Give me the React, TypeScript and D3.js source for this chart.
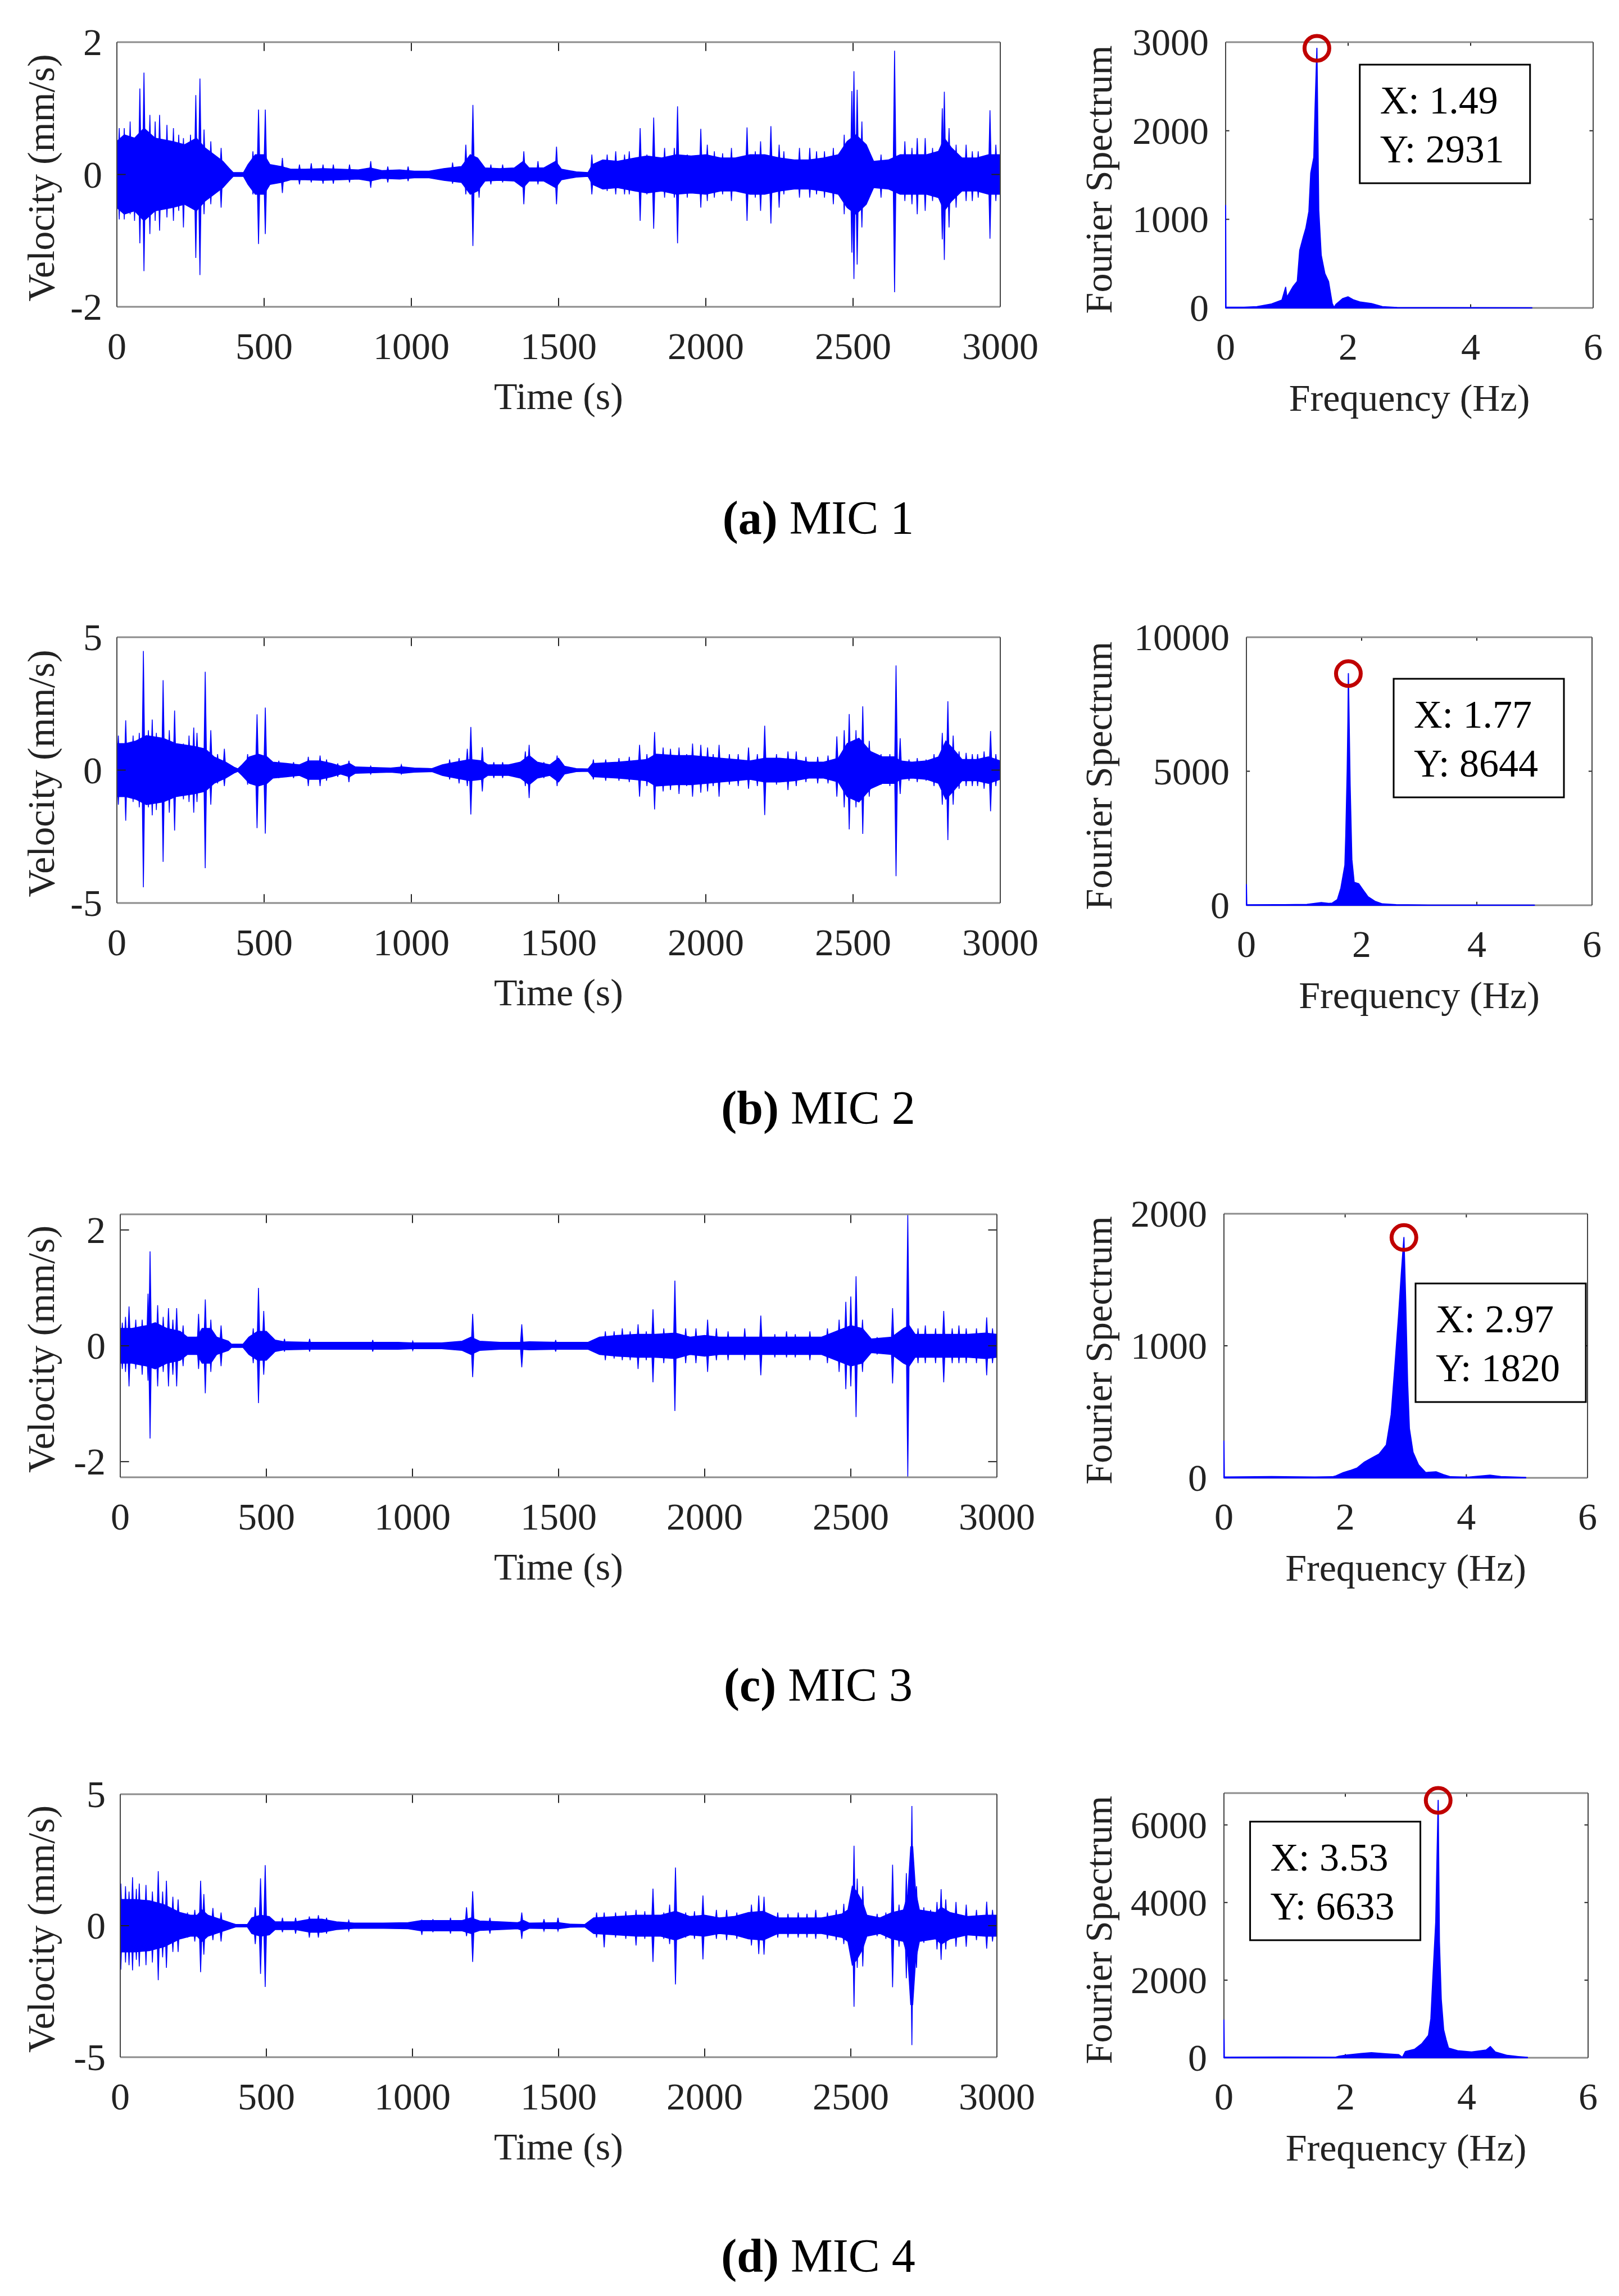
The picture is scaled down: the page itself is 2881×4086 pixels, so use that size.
import React from 'react';
import * as d3 from 'd3';

const W = 2881;
const H = 4086;
const FONT = '"Liberation Serif", "Times New Roman", serif';
const BLUE = '#0000ff';
const INK = '#222222';

const timeTicks = [0, 500, 1000, 1500, 2000, 2500, 3000];
const freqTicks = [0, 2, 4, 6];

// velocity records: dense core envelope [t, amplitude] and single spikes [t, up, down]
const mic1Core = [[0,0.5],[25,0.6],[60,0.55],[92,0.7],[130,0.55],[190,0.5],[230,0.45],[270,0.55],[300,0.4],[330,0.3],[360,0.2],[380,0.1],[395,0.03],[430,0.03],[445,0.15],[470,0.3],[500,0.3],[520,0.15],[560,0.12],[590,0.08],[640,0.08],[700,0.09],[760,0.08],[820,0.07],[860,0.1],[900,0.06],[960,0.07],[1010,0.05],[1060,0.05],[1110,0.09],[1170,0.12],[1200,0.3],[1225,0.25],[1250,0.1],[1300,0.09],[1350,0.1],[1380,0.2],[1400,0.1],[1450,0.1],[1490,0.2],[1510,0.08],[1560,0.04],[1600,0.03],[1615,0.15],[1650,0.22],[1700,0.2],[1760,0.25],[1800,0.28],[1850,0.25],[1900,0.3],[1950,0.28],[2000,0.3],[2050,0.25],[2100,0.25],[2150,0.3],[2200,0.3],[2250,0.25],[2300,0.22],[2350,0.22],[2400,0.25],[2450,0.3],[2480,0.5],[2510,0.6],[2545,0.45],[2570,0.2],[2620,0.22],[2660,0.3],[2700,0.3],[2750,0.3],[2790,0.35],[2810,0.55],[2835,0.4],[2870,0.25],[2920,0.25],[2960,0.3],[3000,0.3]];
const mic1Spikes = [[8,0.7,-0.68],[25,0.7,-0.68],[45,0.8,-0.6],[60,0.5,-0.7],[78,1.3,-1.04],[92,1.54,-1.46],[112,0.9,-0.9],[130,0.8,-0.7],[145,0.9,-0.85],[170,0.75,-0.65],[192,0.7,-0.7],[210,0.6,-0.55],[226,0.55,-0.8],[250,0.6,-0.5],[268,1.2,-1.26],[282,1.45,-1.52],[296,0.68,-0.6],[319,0.5,-0.45],[354,0.4,-0.5],[462,0.35,-0.3],[481,0.98,-1.05],[504,0.98,-0.9],[562,0.25,-0.28],[620,0.15,-0.15],[660,0.17,-0.12],[700,0.15,-0.14],[735,0.15,-0.14],[790,0.15,-0.12],[862,0.2,-0.2],[920,0.12,-0.12],[989,0.12,-0.1],[1140,0.18,-0.14],[1185,0.45,-0.3],[1209,1.05,-1.08],[1230,0.2,-0.35],[1270,0.15,-0.15],[1310,0.15,-0.12],[1382,0.35,-0.45],[1430,0.2,-0.15],[1493,0.42,-0.45],[1613,0.3,-0.3],[1665,0.3,-0.25],[1694,0.35,-0.3],[1724,0.3,-0.3],[1740,0.35,-0.3],[1777,0.7,-0.7],[1800,0.3,-0.3],[1823,0.86,-0.82],[1860,0.4,-0.35],[1893,0.4,-0.35],[1904,1.03,-1.04],[1937,0.3,-0.35],[1983,0.69,-0.5],[2005,0.45,-0.4],[2029,0.35,-0.35],[2057,0.32,-0.3],[2087,0.4,-0.4],[2140,0.71,-0.7],[2168,0.35,-0.35],[2186,0.5,-0.55],[2221,0.73,-0.74],[2249,0.45,-0.5],[2265,0.35,-0.3],[2318,0.4,-0.35],[2353,0.4,-0.35],[2376,0.35,-0.3],[2403,0.35,-0.35],[2433,0.4,-0.45],[2470,0.6,-0.6],[2496,1.26,-1.18],[2503,1.56,-1.58],[2514,1.28,-1.36],[2530,0.8,-0.8],[2595,0.3,-0.35],[2641,1.87,-1.78],[2676,0.5,-0.4],[2700,0.4,-0.45],[2718,0.55,-0.6],[2745,0.55,-0.55],[2770,0.4,-0.4],[2803,1.0,-0.98],[2810,1.25,-1.29],[2826,0.7,-0.8],[2850,0.45,-0.5],[2884,0.45,-0.4],[2905,0.35,-0.4],[2925,0.35,-0.35],[2965,0.97,-0.97],[2985,0.45,-0.4]];

const mic2Core = [[0,1.0],[30,1.0],[65,1.1],[100,1.3],[157,1.2],[200,1.0],[260,0.9],[300,0.8],[330,0.5],[370,0.3],[400,0.1],[411,0.05],[425,0.2],[450,0.5],[480,0.6],[510,0.5],[530,0.3],[580,0.25],[620,0.2],[650,0.35],[690,0.35],[730,0.25],[760,0.15],[790,0.25],[810,0.12],[870,0.1],[930,0.08],[970,0.12],[1010,0.08],[1070,0.06],[1105,0.2],[1150,0.3],[1200,0.4],[1240,0.35],[1260,0.2],[1330,0.2],[1370,0.3],[1400,0.55],[1428,0.3],[1470,0.2],[1500,0.45],[1520,0.15],[1560,0.06],[1600,0.05],[1615,0.25],[1700,0.3],[1750,0.35],[1800,0.4],[1830,0.6],[1900,0.55],[1950,0.55],[2000,0.5],[2050,0.45],[2100,0.4],[2150,0.35],[2200,0.45],[2250,0.45],[2300,0.4],[2350,0.3],[2400,0.3],[2450,0.45],[2480,1.0],[2520,1.2],[2560,0.7],[2600,0.5],[2640,0.5],[2660,0.35],[2700,0.3],[2750,0.35],[2790,0.5],[2815,1.1],[2840,0.8],[2870,0.4],[2920,0.4],[2960,0.5],[3000,0.35]];
const mic2Spikes = [[5,1.3,-1.3],[30,1.87,-1.9],[55,1.3,-1.2],[76,1.4,-1.4],[90,4.48,-4.41],[107,1.5,-1.4],[120,1.9,-1.7],[134,1.4,-1.5],[157,3.38,-3.45],[178,1.5,-1.6],[196,2.24,-2.27],[226,1.0,-1.1],[245,1.3,-1.2],[261,1.6,-1.6],[272,1.4,-1.2],[300,3.7,-3.69],[319,1.5,-1.3],[342,0.6,-0.5],[365,0.8,-0.6],[444,0.6,-0.55],[476,2.1,-2.18],[504,2.35,-2.39],[515,0.4,-0.4],[550,0.35,-0.3],[600,0.3,-0.3],[650,0.5,-0.6],[690,0.55,-0.6],[712,0.4,-0.4],[750,0.25,-0.25],[788,0.35,-0.45],[862,0.15,-0.15],[966,0.2,-0.15],[1130,0.4,-0.35],[1162,0.45,-0.5],[1190,0.8,-0.6],[1202,1.62,-1.67],[1241,0.86,-0.8],[1280,0.3,-0.3],[1310,0.3,-0.3],[1387,0.7,-0.6],[1400,0.95,-1.05],[1450,0.3,-0.3],[1495,0.55,-0.6],[1618,0.4,-0.35],[1660,0.4,-0.4],[1705,0.45,-0.4],[1740,0.5,-0.45],[1775,0.95,-1.0],[1800,0.6,-0.6],[1826,1.43,-1.48],[1855,0.85,-0.8],[1880,0.8,-0.75],[1909,0.85,-0.9],[1935,0.6,-0.6],[1955,1.0,-1.0],[1983,0.95,-0.85],[2006,0.85,-0.8],[2025,0.6,-0.6],[2045,0.95,-1.0],[2080,0.6,-0.55],[2110,0.6,-0.6],[2145,0.85,-0.7],[2175,0.6,-0.6],[2200,1.67,-1.69],[2240,0.6,-0.55],[2279,0.7,-0.75],[2307,0.7,-0.6],[2340,0.5,-0.45],[2380,0.5,-0.5],[2415,0.55,-0.5],[2445,1.27,-1.0],[2470,1.5,-1.4],[2487,2.11,-2.23],[2510,1.5,-1.4],[2533,2.4,-2.4],[2555,1.1,-1.0],[2595,0.6,-0.55],[2625,0.6,-0.6],[2646,3.94,-3.99],[2660,1.2,-0.9],[2690,0.4,-0.4],[2718,0.45,-0.45],[2748,0.4,-0.4],[2775,0.6,-0.6],[2803,1.4,-1.3],[2822,2.59,-2.63],[2840,1.3,-1.3],[2860,0.7,-0.7],[2884,0.65,-0.6],[2905,0.6,-0.6],[2923,0.6,-0.6],[2945,0.7,-0.7],[2967,1.47,-1.55],[2985,0.6,-0.6]];

const mic3Core = [[0,0.3],[40,0.3],[90,0.35],[120,0.4],[160,0.3],[205,0.25],[230,0.15],[263,0.15],[280,0.3],[310,0.3],[330,0.15],[370,0.08],[380,0.03],[420,0.03],[440,0.15],[470,0.25],[500,0.25],[530,0.1],[560,0.07],[650,0.06],[750,0.06],[850,0.06],[950,0.06],[1000,0.05],[1100,0.05],[1170,0.08],[1200,0.15],[1230,0.08],[1300,0.06],[1370,0.06],[1400,0.07],[1500,0.06],[1600,0.06],[1640,0.15],[1700,0.18],[1770,0.2],[1830,0.2],[1900,0.22],[1950,0.15],[2000,0.18],[2050,0.15],[2100,0.15],[2150,0.15],[2200,0.15],[2300,0.15],[2400,0.15],[2450,0.25],[2500,0.35],[2540,0.3],[2570,0.12],[2640,0.15],[2680,0.3],[2700,0.35],[2720,0.2],[2800,0.2],[2850,0.2],[2900,0.2],[2960,0.22],[3000,0.2]];
const mic3Spikes = [[7,0.4,-0.4],[18,0.5,-0.45],[30,0.68,-0.7],[53,0.45,-0.4],[75,0.45,-0.5],[95,0.9,-0.6],[102,1.63,-1.6],[128,0.7,-0.7],[147,0.5,-0.45],[165,0.65,-0.7],[180,0.45,-0.5],[193,0.65,-0.7],[215,0.35,-0.35],[268,0.55,-0.4],[291,0.8,-0.82],[310,0.45,-0.45],[345,0.35,-0.35],[455,0.3,-0.3],[473,1.0,-0.99],[491,0.6,-0.5],[562,0.12,-0.1],[648,0.12,-0.1],[864,0.1,-0.1],[1001,0.08,-0.08],[1206,0.55,-0.54],[1374,0.37,-0.37],[1490,0.1,-0.1],[1660,0.25,-0.25],[1690,0.25,-0.22],[1718,0.3,-0.25],[1745,0.25,-0.25],[1772,0.37,-0.4],[1800,0.25,-0.25],[1823,0.63,-0.63],[1860,0.3,-0.3],[1898,1.125,-1.125],[1935,0.3,-0.3],[1970,0.3,-0.3],[2010,0.45,-0.45],[2040,0.3,-0.25],[2080,0.25,-0.25],[2137,0.3,-0.25],[2192,0.52,-0.51],[2240,0.2,-0.2],[2280,0.25,-0.2],[2310,0.2,-0.2],[2360,0.25,-0.25],[2420,0.3,-0.3],[2460,0.45,-0.45],[2483,0.76,-0.75],[2500,0.85,-0.7],[2518,1.2,-1.23],[2540,0.45,-0.45],[2590,0.15,-0.15],[2643,0.65,-0.65],[2695,2.27,-2.27],[2730,0.3,-0.3],[2755,0.35,-0.3],[2790,0.3,-0.3],[2818,0.6,-0.63],[2847,0.3,-0.3],[2870,0.35,-0.3],[2895,0.3,-0.3],[2930,0.3,-0.3],[2965,0.49,-0.51],[2985,0.3,-0.3]];

const mic4Core = [[0,1.0],[50,1.0],[100,0.95],[150,0.8],[205,0.5],[240,0.4],[263,0.4],[280,0.6],[300,0.4],[340,0.25],[380,0.1],[395,0.05],[435,0.05],[450,0.3],[480,0.4],[510,0.35],[530,0.15],[600,0.15],[650,0.25],[690,0.25],[740,0.15],[800,0.1],[900,0.1],[985,0.12],[1030,0.2],[1060,0.2],[1110,0.2],[1170,0.2],[1200,0.3],[1230,0.18],[1300,0.15],[1360,0.12],[1380,0.2],[1400,0.1],[1500,0.12],[1540,0.06],[1590,0.05],[1620,0.3],[1700,0.35],[1770,0.4],[1850,0.4],[1900,0.55],[1950,0.35],[2000,0.4],[2050,0.3],[2100,0.35],[2150,0.5],[2200,0.55],[2250,0.3],[2300,0.3],[2400,0.3],[2470,0.45],[2490,0.6],[2505,1.5],[2520,1.3],[2540,0.9],[2555,0.4],[2600,0.3],[2640,0.5],[2680,0.6],[2695,1.2],[2705,3.0],[2712,3.0],[2722,1.3],[2735,0.6],[2790,0.5],[2810,0.7],[2840,0.5],[2900,0.35],[2960,0.4],[3000,0.4]];
const mic4Spikes = [[2,1.6,-1.67],[18,1.5,-1.4],[30,1.3,-1.5],[42,1.84,-1.7],[55,1.4,-1.3],[65,1.6,-1.55],[88,1.55,-1.5],[110,1.3,-1.4],[130,2.07,-2.07],[145,1.3,-1.2],[158,1.71,-1.6],[180,1.1,-1.0],[198,1.0,-1.0],[230,0.5,-0.45],[255,0.6,-0.6],[275,1.71,-1.77],[286,1.2,-1.1],[317,0.67,-0.55],[345,0.5,-0.6],[462,0.7,-0.7],[480,1.8,-1.83],[496,2.3,-2.33],[555,0.3,-0.25],[600,0.3,-0.3],[647,0.35,-0.45],[678,0.4,-0.45],[706,0.3,-0.3],[782,0.2,-0.2],[1032,0.2,-0.35],[1070,0.25,-0.25],[1130,0.3,-0.3],[1185,0.7,-0.4],[1206,1.31,-1.38],[1265,0.3,-0.3],[1374,0.5,-0.5],[1450,0.25,-0.2],[1498,0.3,-0.2],[1630,0.5,-0.45],[1656,0.5,-0.82],[1695,0.5,-0.45],[1730,0.55,-0.5],[1765,0.6,-0.75],[1795,0.55,-0.5],[1823,1.41,-1.38],[1860,0.5,-0.5],[1880,0.8,-0.7],[1900,2.21,-2.23],[1935,0.5,-0.45],[1965,0.55,-0.5],[1994,1.15,-1.28],[2040,0.6,-0.5],[2075,0.6,-0.55],[2110,0.5,-0.5],[2160,0.8,-0.75],[2185,1.15,-1.08],[2203,1.1,-1.1],[2250,0.5,-0.45],[2285,0.45,-0.45],[2320,0.5,-0.45],[2350,0.45,-0.45],[2380,0.6,-0.5],[2420,0.5,-0.5],[2450,0.6,-0.55],[2476,0.83,-0.7],[2511,3.04,-3.08],[2522,1.79,-1.6],[2541,1.5,-1.55],[2590,0.45,-0.4],[2620,0.5,-0.5],[2643,2.32,-2.34],[2665,0.8,-0.8],[2690,2.0,-2.0],[2709,4.55,-4.54],[2725,1.5,-1.6],[2750,0.7,-0.65],[2773,0.6,-0.5],[2795,0.9,-0.9],[2809,1.39,-1.3],[2825,1.0,-0.9],[2860,0.9,-0.8],[2895,0.8,-0.8],[2930,0.6,-0.55],[2965,0.91,-0.87],[2985,0.6,-0.6]];

// Fourier spectra [frequency Hz, amplitude]
const mic1Spectrum = [[0,1158],[0.006,10],[0.3,8],[0.51,15],[0.75,45],[0.92,90],[0.98,233],[1.0,120],[1.1,240],[1.17,300],[1.21,650],[1.27,806],[1.31,900],[1.36,1090],[1.39,1522],[1.44,1700],[1.46,2240],[1.49,2931],[1.52,1105],[1.56,597],[1.62,388],[1.68,298],[1.74,50],[1.77,5],[1.8,40],[1.91,105],[2.0,125],[2.09,90],[2.2,66],[2.38,50],[2.56,15],[2.8,5],[3.5,3],[5.0,2]];
const mic2Spectrum = [[0,770],[0.006,15],[0.5,20],[1.05,30],[1.3,100],[1.43,70],[1.49,80],[1.58,214],[1.64,640],[1.71,1497],[1.725,2567],[1.75,5027],[1.762,6845],[1.77,8644],[1.8,4492],[1.83,1711],[1.87,855],[1.95,802],[2.02,588],[2.11,320],[2.23,150],[2.36,50],[2.6,20],[3.0,8],[5.0,5]];
const mic3Spectrum = [[0,279],[0.006,6],[0.79,10],[1.5,6],[1.79,8],[1.85,15],[1.97,40],[2.08,55],[2.2,75],[2.32,120],[2.44,150],[2.56,180],[2.68,250],[2.76,479],[2.82,838],[2.88,1218],[2.93,1567],[2.97,1820],[3.0,1324],[3.03,733],[3.06,374],[3.12,194],[3.21,99],[3.33,40],[3.5,46],[3.62,25],[3.74,8],[4.03,5],[4.39,20],[4.57,10],[4.98,3]];
const mic4Spectrum = [[0,972],[0.006,15],[1.0,18],[1.84,15],[1.9,40],[2.02,70],[2.26,108],[2.43,130],[2.67,100],[2.88,80],[2.94,10],[2.99,158],[3.14,216],[3.26,360],[3.37,576],[3.41,1008],[3.44,1980],[3.49,3493],[3.515,5474],[3.53,6633],[3.55,2989],[3.58,1513],[3.62,720],[3.66,468],[3.7,250],[3.85,180],[4.08,150],[4.32,200],[4.39,288],[4.47,150],[4.67,60],[4.85,30],[5.0,10]];

const peaks = [[1.49, 2931], [1.77, 8644], [2.97, 1820], [3.53, 6633]];
const tipAnchors = [[2.19, 2746], [2.556, 8449], [3.162, 1472], [0.431, 6084]];
const captionLetters = ['(a)', '(b)', '(c)', '(d)'];
const captionNames = ['MIC 1', 'MIC 2', 'MIC 3', 'MIC 4'];
const velMax = [2, 5, 2.27, 5];
const velTicks = [[-2, 0, 2], [-5, 0, 5], [-2, 0, 2], [-5, 0, 5]];
const specMax = [3000, 10000, 2000, 6820];
const specTicks = [[0, 1000, 2000, 3000], [0, 5000, 10000], [0, 1000, 2000], [0, 2000, 4000, 6000]];

const cores = [mic1Core, mic2Core, mic3Core, mic4Core];
const spikes = [mic1Spikes, mic2Spikes, mic3Spikes, mic4Spikes];
const spectra = [mic1Spectrum, mic2Spectrum, mic3Spectrum, mic4Spectrum];

// page layout (pixels)
const leftBoxes = [
  { x0: 208, x1: 1780, y0: 75, y1: 546 },
  { x0: 208, x1: 1780, y0: 1134, y1: 1607 },
  { x0: 214, x1: 1774, y0: 2161, y1: 2629 },
  { x0: 214, x1: 1774, y0: 3193, y1: 3661 },
];
const rightBoxes = [
  { x0: 2181, x1: 2835, y0: 75, y1: 548 },
  { x0: 2218, x1: 2833, y0: 1134, y1: 1611 },
  { x0: 2178, x1: 2825, y0: 2160, y1: 2630 },
  { x0: 2178, x1: 2826, y0: 3191, y1: 3662 },
];
const captionY = [950, 2000, 3027, 4043];

const FS = 68;
const SPIKE_HALF = 5; // seconds, half-width of a spike's base

function Frame({ b, tl, xs, ys, xt, yt }) {
  return (
    <g>
      {xt.map(v => (
        <g key={'x' + v}>
          <line x1={xs(v)} x2={xs(v)} y1={b.y1} y2={b.y1 - tl} stroke={INK} strokeWidth={2} />
          <line x1={xs(v)} x2={xs(v)} y1={b.y0} y2={b.y0 + tl} stroke={INK} strokeWidth={2} />
        </g>
      ))}
      {yt.map(v => (
        <g key={'y' + v}>
          <line x1={b.x0} x2={b.x0 + tl} y1={ys(v)} y2={ys(v)} stroke={INK} strokeWidth={2} />
          <line x1={b.x1} x2={b.x1 - tl} y1={ys(v)} y2={ys(v)} stroke={INK} strokeWidth={2} />
        </g>
      ))}
      <line x1={b.x0} x2={b.x1} y1={b.y0} y2={b.y0} stroke="#8c8c8c" strokeWidth={3} />
      <line x1={b.x0} x2={b.x1} y1={b.y1} y2={b.y1} stroke="#8c8c8c" strokeWidth={3} />
      <line x1={b.x0} x2={b.x0} y1={b.y0} y2={b.y1} stroke="#444" strokeWidth={2} />
      <line x1={b.x1} x2={b.x1} y1={b.y0} y2={b.y1} stroke="#444" strokeWidth={2} />
    </g>
  );
}

function TimePanel({ i }) {
  const b = leftBoxes[i];
  const x = d3.scaleLinear().domain([0, 3000]).range([b.x0, b.x1]);
  const y = d3.scaleLinear().domain([-velMax[i], velMax[i]]).range([b.y1, b.y0]);
  const area = d3.area<number[]>().x(d => x(d[0])).y0(d => y(-d[1])).y1(d => y(d[1]));
  const tl = 0.01 * Math.max(b.x1 - b.x0, b.y1 - b.y0);
  const clip = 'tclip' + i;
  const spikePath = (s: number[]) =>
    `M${x(s[0] - SPIKE_HALF)},${y(0)}L${x(s[0])},${y(s[1])}L${x(s[0] + SPIKE_HALF)},${y(0)}L${x(s[0])},${y(s[2])}Z`;
  return (
    <g>
      <clipPath id={clip}><rect x={b.x0} y={b.y0} width={b.x1 - b.x0} height={b.y1 - b.y0} /></clipPath>
      <g clipPath={`url(#${clip})`}>
        <path d={area(cores[i])} fill={BLUE} stroke={BLUE} strokeWidth={1.5} />
        {spikes[i].map((s, k) => (
          <path key={k} d={spikePath(s)} fill={BLUE} stroke={BLUE} strokeWidth={1.5} strokeLinejoin="miter" />
        ))}
      </g>
      <Frame b={b} tl={tl} xs={x} ys={y} xt={timeTicks} yt={velTicks[i]} />
      {timeTicks.map(v => (
        <text key={v} x={x(v)} y={b.y1 + 93} textAnchor="middle" fontSize={FS} fill={INK}>{v}</text>
      ))}
      {velTicks[i].map(v => (
        <text key={v} x={b.x0 - 26} y={y(v) + 23} textAnchor="end" fontSize={FS} fill={INK}>{String(v)}</text>
      ))}
      <text x={(b.x0 + b.x1) / 2} y={b.y1 + 182} textAnchor="middle" fontSize={FS} fill={INK}>Time (s)</text>
      <text transform={`translate(96,${(b.y0 + b.y1) / 2 + 6}) rotate(-90)`} textAnchor="middle" fontSize={FS} fill={INK}>Velocity (mm/s)</text>
    </g>
  );
}

function SpecPanel({ i }) {
  const b = rightBoxes[i];
  const x = d3.scaleLinear().domain([0, 6]).range([b.x0, b.x1]);
  const y = d3.scaleLinear().domain([0, specMax[i]]).range([b.y1, b.y0]);
  const area = d3.area<number[]>().x(d => x(d[0])).y0(y(0)).y1(d => y(d[1]));
  const tl = 0.01 * Math.max(b.x1 - b.x0, b.y1 - b.y0);
  const [pf, pa] = peaks[i];
  const [tf, ta] = tipAnchors[i];
  const bx = x(tf);
  const by = y(ta);
  return (
    <g>
      <Frame b={b} tl={tl} xs={x} ys={y} xt={freqTicks} yt={specTicks[i]} />
      <path d={area(spectra[i])} fill={BLUE} stroke={BLUE} strokeWidth={2} strokeLinejoin="round" />
      <circle cx={x(pf)} cy={y(pa)} r={22} fill="none" stroke="#c00000" strokeWidth={7} />
      <rect x={bx} y={by} width={303} height={211} fill="#fff" stroke="#000" strokeWidth={3} />
      <text x={bx + 36} y={by + 87} fontSize={70} fill="#000">{`X: ${pf.toFixed(2)}`}</text>
      <text x={bx + 36} y={by + 174} fontSize={70} fill="#000">{`Y: ${pa}`}</text>
      {freqTicks.map(v => (
        <text key={v} x={x(v)} y={b.y1 + 92} textAnchor="middle" fontSize={FS} fill={INK}>{v}</text>
      ))}
      {specTicks[i].map(v => (
        <text key={v} x={b.x0 - 30} y={y(v) + 23} textAnchor="end" fontSize={FS} fill={INK}>{v}</text>
      ))}
      <text x={(b.x0 + b.x1) / 2} y={b.y1 + 183} textAnchor="middle" fontSize={FS} fill={INK}>Frequency (Hz)</text>
      <text transform={`translate(1978,${(b.y0 + b.y1) / 2 + 8}) rotate(-90)`} textAnchor="middle" fontSize={FS} fill={INK}>Fourier Spectrum</text>
    </g>
  );
}

export default function App() {
  return (
    <svg width={W} height={H} style={{ position: 'absolute', left: 0, top: 0, background: '#fff' }} fontFamily={FONT}>
      <rect width={W} height={H} fill="#fff" />
      {[0, 1, 2, 3].map(i => (
        <g key={i}>
          <TimePanel i={i} />
          <SpecPanel i={i} />
          <text x={1456} y={captionY[i]} textAnchor="middle" fontSize={84} fill="#000">
            <tspan fontWeight="bold">{captionLetters[i]}</tspan> {captionNames[i]}
          </text>
        </g>
      ))}
    </svg>
  );
}
